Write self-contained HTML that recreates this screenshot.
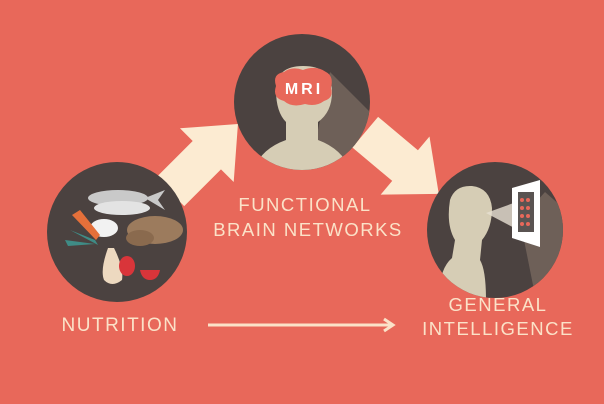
<!DOCTYPE html>
<html><head><meta charset="utf-8"><style>
html,body{margin:0;padding:0;background:#E8685A;}
svg{display:block}
text{font-family:"Liberation Sans",sans-serif;fill:#FBE2C8;letter-spacing:1.5px}
</style></head><body>
<svg width="604" height="404" viewBox="0 0 604 404" xmlns="http://www.w3.org/2000/svg">
<rect width="604" height="404" fill="#E8685A"/>
<defs>
<clipPath id="c1"><circle cx="117" cy="232" r="70"/></clipPath>
<clipPath id="c2"><circle cx="302" cy="102" r="68"/></clipPath>
<clipPath id="c3"><circle cx="495" cy="230" r="68"/></clipPath>
</defs>
<g transform="translate(204,158) rotate(-45)"><polygon points="-48,-20 4,-20 4,-38 48,0 4,38 4,20 -48,20" fill="#FCEBD2"/></g>
<g transform="translate(402,163) rotate(40)"><polygon points="-48,-20 4,-20 4,-38 48,0 4,38 4,20 -48,20" fill="#FCEBD2"/></g>
<circle cx="117" cy="232" r="70" fill="#4B4240"/>
<g clip-path="url(#c1)">
<ellipse cx="118" cy="198" rx="30" ry="8" fill="#C9C9C9"/>
<ellipse cx="122" cy="208" rx="28" ry="7" fill="#E3E3E3"/>
<polygon points="145,198 165,190 158,200 165,210" fill="#C9C9C9"/>
<ellipse cx="104" cy="228" rx="14" ry="9" fill="#F2F2F2"/>
<ellipse cx="155" cy="230" rx="28" ry="14" fill="#9C7B5D"/>
<ellipse cx="140" cy="238" rx="14" ry="8" fill="#8A6A4E"/>
<polygon points="72,215 96,240 100,235 80,210" fill="#E5703A"/>
<polygon points="70,230 98,245 95,240" fill="#3F8C86"/>
<polygon points="65,240 95,244 68,246" fill="#3F8C86"/>
<path d="M108 248 Q100 270 104 280 Q112 288 122 280 Q124 268 114 248 Z" fill="#EDD9C0"/>
<ellipse cx="127" cy="266" rx="8" ry="10" fill="#D9353A"/>
<path d="M140 270 L160 270 Q158 280 150 280 Q142 280 140 270Z" fill="#D9353A"/>
</g>
<circle cx="302" cy="102" r="68" fill="#4B4240"/>
<g clip-path="url(#c2)">
<polygon points="330,72 400,142 400,200 300,200 318,130" fill="#6E6058"/>
<path d="M276 90 Q276 66 303 66 Q332 66 332 92 Q332 112 318 122 L318 140 Q345 150 352 175 L252 175 Q258 150 286 140 L286 122 Q276 112 276 90Z" fill="#D6CDB5"/>
<path d="M276 86 Q272 74 284 72 Q292 66 303 70 Q316 65 326 72 Q334 76 331 88 Q334 98 324 101 Q316 107 305 104 Q292 108 284 101 Q272 98 276 86Z" fill="#E8685A"/>
<text x="304" y="94" text-anchor="middle" font-size="16" font-weight="bold" style="fill:#fff;letter-spacing:3px">MRI</text>
</g>
<circle cx="495" cy="230" r="68" fill="#4B4240"/>
<g clip-path="url(#c3)">
<polygon points="520,220 545,192 600,240 600,320 540,320" fill="#6E6058"/>
<path d="M450 200 Q455 185 472 186 Q490 188 492 208 Q492 228 482 240 L480 260 Q486 270 486 300 L440 300 Q438 270 452 258 L455 240 Q446 225 450 200Z" fill="#D6CDB5"/>
<polygon points="486,213 522,200 522,232" fill="#E7E0D2" opacity="0.8"/>
<polygon points="512,188 540,180 540,247 512,238" fill="#FFFFFF"/>
<rect x="518" y="192" width="16" height="40" fill="#5A5452"/>
<g fill="#E8685A"><circle cx="522" cy="200" r="2"/><circle cx="528" cy="200" r="2"/><circle cx="522" cy="208" r="2"/><circle cx="528" cy="208" r="2"/><circle cx="522" cy="216" r="2"/><circle cx="528" cy="216" r="2"/><circle cx="522" cy="224" r="2"/><circle cx="528" cy="224" r="2"/></g>
</g>
<text x="120" y="331" text-anchor="middle" font-size="19">NUTRITION</text>
<text x="305" y="211" text-anchor="middle" font-size="18.5">FUNCTIONAL</text>
<text x="308" y="236" text-anchor="middle" font-size="18.5">BRAIN NETWORKS</text>
<text x="498" y="311" text-anchor="middle" font-size="18.5">GENERAL</text>
<text x="498" y="335" text-anchor="middle" font-size="18.5">INTELLIGENCE</text>
<line x1="208" y1="325" x2="392" y2="325" stroke="#FBE2C8" stroke-width="3"/>
<polyline points="384,319 393,325 384,331" fill="none" stroke="#FBE2C8" stroke-width="3"/>
</svg>
</body></html>
